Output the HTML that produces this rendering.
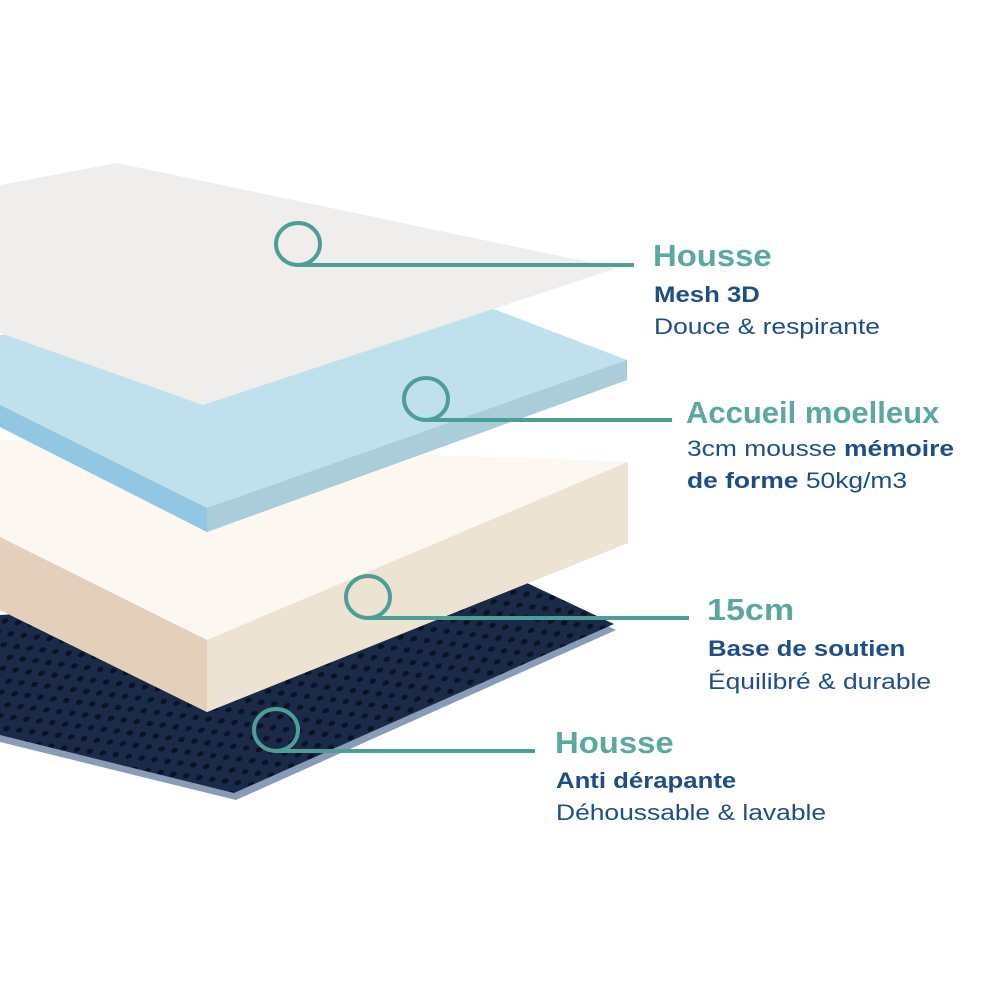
<!DOCTYPE html>
<html><head><meta charset="utf-8"><style>
html,body{margin:0;padding:0;background:#fff;}
.wrap{position:relative;width:1000px;height:1000px;overflow:hidden;font-family:"Liberation Sans",sans-serif;}
.t{position:absolute;white-space:nowrap;transform-origin:0 0;}
.h{color:#5aa8a0;font-weight:bold;font-size:31px;}
.b{color:#1d4e89;font-weight:bold;font-size:22px;transform:scaleX(1.17);}
.r{color:#1d4e89;font-size:22px;transform:scaleX(1.2);}
</style></head><body><div class="wrap">
<svg width="1000" height="1000" style="position:absolute;left:0;top:0">
<defs>
<pattern id="holes" width="22" height="14" patternUnits="userSpaceOnUse" patternTransform="rotate(-25)">
<rect width="22" height="14" fill="#1c2a4a"/>
<ellipse cx="6" cy="5" rx="3.5" ry="2.5" fill="#0a1224"/>
<ellipse cx="17" cy="12" rx="3.5" ry="2.5" fill="#0a1224"/>
</pattern>
</defs>
<polygon points="0,622 527,588 616,630 236,800 0,742" fill="#8a9bb8"/>
<polygon points="0,615 527,583 614,624 234,793 0,735" fill="url(#holes)"/>
<polygon points="0,440 628,462 628,543 207,712 0,610" fill="#ede3d2"/>
<polygon points="0,537 207,640 207,712 0,610" fill="#e4cfbb"/>
<polygon points="0,440 628,462 207,640 0,537" fill="#fdf7f1"/>
<polygon points="207,640 628,462 628,543 207,712" fill="#ede3d2"/>
<polygon points="0,335 470,300 627,360 627,380 207,532 0,427" fill="#bfe0ec"/>
<polygon points="0,405 207,508 207,532 0,427" fill="#92c6e2"/>
<polygon points="207,508 627,360 627,380 207,532" fill="#aacdd9"/>
<polygon points="0,185 117,163 617,268 203,405 0,333" fill="#f0eeec"/>
<g fill="none" stroke="#4e9e98" stroke-width="4">
<ellipse cx="298" cy="244" rx="22" ry="21"/><line x1="300" y1="265" x2="634" y2="265"/>
<ellipse cx="426" cy="399" rx="22" ry="21"/><line x1="428" y1="420" x2="672" y2="420"/>
<ellipse cx="368" cy="597" rx="22" ry="21"/><line x1="370" y1="618" x2="689" y2="618"/>
<ellipse cx="276" cy="730" rx="22" ry="21"/><line x1="278" y1="751" x2="535" y2="751"/>
</g>
</svg>
<div class="t h" style="left:653px;top:238px;transform:scaleX(1.06)">Housse</div>
<div class="t b" style="left:654px;top:282px">Mesh 3D</div>
<div class="t r" style="left:654px;top:314px">Douce &amp; respirante</div>
<div class="t h" style="left:686px;top:395px">Accueil moelleux</div>
<div class="t r" style="left:687px;top:436px">3cm mousse <b>mémoire</b></div>
<div class="t r" style="left:687px;top:468px"><b>de forme</b> 50kg/m3</div>
<div class="t h" style="left:707px;top:592px;transform:scaleX(1.1)">15cm</div>
<div class="t b" style="left:708px;top:636px">Base de soutien</div>
<div class="t r" style="left:708px;top:669px">Équilibré &amp; durable</div>
<div class="t h" style="left:555px;top:725px;transform:scaleX(1.06)">Housse</div>
<div class="t b" style="left:556px;top:768px">Anti dérapante</div>
<div class="t r" style="left:556px;top:800px">Déhoussable &amp; lavable</div>
</div></body></html>
